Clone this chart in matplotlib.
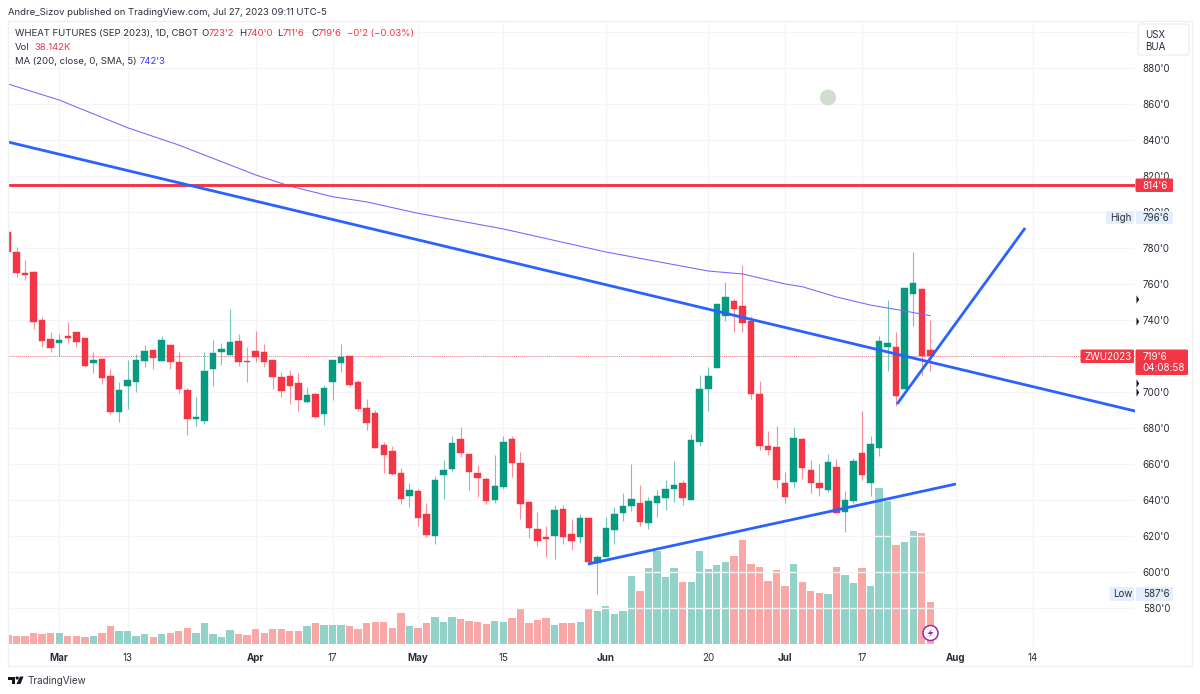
import numpy as np
import matplotlib
matplotlib.use("Agg")
import matplotlib.pyplot as plt
from matplotlib.patches import Rectangle, FancyBboxPatch, Circle, Polygon

plt.rcParams['font.family'] = ['Inter', 'DejaVu Sans']

# daily bars, Feb 21 - Jul 27 2023
opens = [788.7, 777.6, 765.9, 766.7, 740.0, 729.3, 727.2, 731.1, 733.3, 729.8,
         716.3, 718.5, 708.7, 688.9, 703.2, 705.7, 717.0, 723.1, 717.4, 726.1,
         716.5, 701.1, 685.2, 684.1, 713.0, 722.2, 720.6, 728.1, 717.2, 722.6,
         722.2, 717.6, 708.3, 708.7, 705.0, 694.6, 699.0, 687.6, 705.5, 716.3,
         719.8, 705.4, 690.9, 688.1, 670.4, 667.0, 655.2, 642.2, 644.8, 632.0,
         620.0, 653.9, 657.2, 673.7, 665.4, 655.2, 651.5, 640.0, 647.0, 673.7,
         660.7, 638.7, 623.7, 619.2, 619.8, 635.0, 620.9, 619.6, 629.8, 605.2,
         608.1, 623.1, 633.0, 636.8, 638.3, 627.2, 638.1, 641.1, 646.1, 649.6,
         640.0, 672.2, 701.5, 713.1, 742.4, 750.5, 747.6, 739.4, 698.7, 670.0,
         669.3, 649.2, 649.8, 674.1, 656.8, 649.6, 645.4, 658.1, 633.5, 639.4,
         666.1, 649.4, 668.9, 724.8, 724.8, 701.7, 754.3, 757.0, 723.25]
highs = [797.0, 780.4, 773.3, 767.2, 741.5, 733.3, 732.4, 739.1, 733.3, 729.8,
         722.4, 718.7, 712.6, 705.4, 717.6, 720.9, 726.1, 723.3, 731.1, 726.1,
         722.4, 702.4, 697.0, 722.4, 729.1, 727.4, 746.1, 732.2, 724.8, 734.1,
         726.7, 717.6, 711.3, 712.0, 710.4, 702.6, 699.2, 703.9, 717.8, 726.8,
         720.0, 706.7, 696.1, 689.8, 672.4, 669.8, 657.6, 649.6, 645.9, 638.1,
         653.5, 662.2, 675.4, 680.4, 665.6, 659.4, 652.6, 665.0, 675.4, 675.5,
         666.7, 638.7, 633.1, 625.4, 637.0, 637.0, 629.2, 632.0, 629.8, 609.4,
         630.4, 635.9, 643.7, 660.0, 648.3, 641.5, 645.5, 651.1, 661.7, 651.1,
         676.5, 709.6, 713.7, 748.7, 761.1, 751.5, 770.6, 742.2, 706.3, 678.3,
         681.1, 655.7, 680.4, 674.2, 662.2, 660.2, 665.4, 662.8, 645.0, 663.5,
         689.4, 675.4, 731.1, 750.9, 733.3, 757.8, 777.6, 757.6, 740.0]
lows = [777.6, 764.1, 762.2, 734.8, 725.0, 722.4, 720.2, 727.0, 725.2, 713.7,
        710.4, 704.6, 688.0, 683.5, 690.4, 700.2, 714.1, 712.6, 717.4, 712.8,
        699.3, 676.1, 681.1, 682.0, 703.3, 715.0, 720.6, 714.6, 705.4, 716.7,
        714.1, 701.5, 697.4, 693.5, 689.6, 694.1, 685.7, 681.7, 695.5, 711.3,
        703.1, 689.6, 678.9, 668.9, 655.0, 654.1, 637.6, 636.3, 625.7, 619.4,
        615.7, 640.5, 656.1, 664.1, 645.5, 641.8, 637.6, 638.5, 645.9, 653.0,
        629.2, 618.7, 614.6, 608.3, 607.4, 615.7, 612.0, 616.1, 603.9, 587.75,
        608.1, 615.6, 628.5, 634.1, 625.5, 623.7, 630.7, 634.4, 639.0, 637.2,
        640.0, 670.2, 689.6, 713.1, 739.6, 733.1, 733.1, 695.9, 667.8, 665.0,
        646.4, 638.5, 646.8, 651.8, 644.1, 642.4, 644.6, 632.6, 622.4, 638.1,
        651.3, 642.4, 664.3, 711.7, 692.4, 701.7, 736.8, 709.4, 711.75]
closes = [777.6, 766.3, 764.8, 738.9, 728.5, 724.6, 729.1, 730.2, 727.6, 714.4,
          717.6, 707.8, 688.9, 701.1, 706.7, 717.6, 722.8, 718.7, 729.1, 716.7,
          701.9, 685.2, 686.1, 711.7, 721.5, 723.9, 727.8, 716.7, 716.8, 719.6,
          716.7, 708.2, 700.7, 703.2, 695.6, 698.1, 686.3, 702.0, 717.8, 719.6,
          703.7, 690.6, 683.0, 668.9, 664.8, 654.2, 640.7, 645.4, 630.0, 620.7,
          650.9, 656.8, 671.7, 665.9, 655.4, 652.4, 639.2, 647.6, 672.2, 660.4,
          638.0, 624.6, 617.2, 618.5, 634.6, 619.2, 617.4, 629.8, 605.7, 608.3,
          624.4, 632.4, 636.5, 640.5, 627.6, 639.3, 642.0, 646.3, 648.3, 641.1,
          673.1, 701.7, 708.9, 748.7, 752.8, 746.3, 738.1, 698.9, 670.0, 667.6,
          651.2, 641.8, 674.2, 657.9, 649.4, 646.5, 660.9, 632.8, 640.0, 661.9,
          653.7, 671.1, 728.1, 727.2, 697.6, 757.8, 760.6, 720.0, 719.75]
# thousands of contracts
volumes = [7.9, 7.6, 7.0, 9.7, 9.1, 10.3, 10.3, 7.6, 7.6, 6.4,
           7.6, 9.7, 16.1, 11.8, 11.8, 7.6, 9.1, 6.4, 9.1, 10.3,
           11.8, 14.8, 9.7, 18.8, 9.1, 6.4, 12.7, 9.1, 7.9, 13.3,
           10.3, 13.3, 13.9, 12.1, 11.8, 16.1, 19.4, 17.0, 17.6, 17.6,
           16.7, 13.3, 18.8, 20.3, 19.7, 14.5, 27.9, 16.1, 14.5, 19.4,
           24.8, 20.3, 24.8, 22.4, 21.2, 20.3, 18.2, 20.9, 19.7, 23.6,
           31.8, 18.8, 21.8, 23.6, 17.3, 19.4, 19.4, 20.0, 32.7, 29.7,
           34.2, 27.0, 29.7, 61.5, 47.9, 69.1, 84.8, 60.9, 69.1, 56.7,
           56.7, 84.2, 67.9, 71.8, 74.5, 80.3, 94.5, 72.4, 69.7, 57.3,
           67.6, 52.7, 72.4, 56.7, 48.5, 46.4, 45.5, 69.7, 62.4, 55.1,
           69.1, 52.4, 141.5, 131.5, 89.7, 92.7, 102.7, 100.6, 38.142]

ma_bars = [0, 6, 14, 20, 29, 33, 38, 42, 48, 58, 70, 82, 86, 91, 93, 97, 101, 105, 108]
ma_vals = [871.1, 862.2, 846.8, 837.2, 820.6, 814.4, 808.5, 805.6, 799.3, 790.6,
           777.8, 767.2, 765.6, 760.0, 758.5, 752.8, 748.3, 745.0, 742.4]

resistance = 814.75
last_close = 719.75
down_trend_x = [0, 132]
down_trend_y = [838.9, 689.4]
up_trend_x = [67.9, 111]
up_trend_y = [604.4, 648.9]
steep_trend_x = [104.1, 119.1]
steep_trend_y = [693.3, 791.1]

date_ticks = [6, 14, 29, 38, 48, 58, 70, 82, 91, 100, 111, 120]
date_labels = ['Mar', '13', 'Apr', '17', 'May', '15', 'Jun', '20', 'Jul', '17', 'Aug', '14']
month_labels = ['Mar', 'Apr', 'May', 'Jun', 'Jul', 'Aug']
price_ticks = [900, 880, 860, 840, 820, 800, 780, 760, 740, 720, 700, 680, 660, 640, 620, 600, 580]

RED = '#F23645'
GREEN = '#089981'
RED_VOL = '#F9A8A8'
GREEN_VOL = '#93D2C8'
BLUE = '#2962FF'
GRID = '#F5F5F7'
TEXT = '#2A2E39'

W, H = 1200, 694
# chart pane in pixels
LEFT, RIGHT, TOP, BOTTOM = 8.0, 1135.0, 21.0, 647.0
BAR_PX = 8.54
PRICE_PX = 1.8
VOL_PX = 0.908  # thousands per pixel
AXIS_FONT = 7.0
HEAD_FONT = 6.85

fig = plt.figure(figsize=(12, 6.94), dpi=100, facecolor='white')
rect = [LEFT / W, 1 - BOTTOM / H, (RIGHT - LEFT) / W, (BOTTOM - TOP) / H]

x = np.arange(len(closes))
o = np.array(opens)
c = np.array(closes)
up = c >= o
xlim = (0, (RIGHT - LEFT) / BAR_PX)

# volume goes underneath, grid lives here too
ax_vol = fig.add_axes(rect)
ax_vol.set_xlim(xlim)
ax_vol.set_ylim(-3 * VOL_PX, (644 - TOP) * VOL_PX)
ax_vol.set_yticks([])
ax_vol.set_xticks(date_ticks)
ax_vol.set_xticklabels(date_labels, fontsize=AXIS_FONT, color=TEXT)
for lab in ax_vol.get_xticklabels():
    if lab.get_text() in month_labels:
        lab.set_fontweight('bold')
ax_vol.tick_params(axis='x', length=0, pad=4)
ax_vol.grid(True, axis='x', color=GRID, linewidth=1)
ax_vol.set_axisbelow(True)
for s in ax_vol.spines.values():
    s.set_visible(False)
ax_vol.bar(x, volumes, width=0.86, color=[GREEN_VOL if u else RED_VOL for u in up], linewidth=0)

ax = fig.add_axes(rect)
ax.patch.set_alpha(0)
ax.set_xlim(xlim)
ax.set_ylim(880 - (BOTTOM - 68) / PRICE_PX, 880 + (68 - TOP) / PRICE_PX)
ax.set_xticks([])
ax.yaxis.tick_right()
ax.set_yticks(price_ticks)
ax.set_yticklabels(["%d'0" % p if p != 900 else '' for p in price_ticks], fontsize=AXIS_FONT, color=TEXT)
ax.tick_params(axis='y', length=0, pad=5.6)
ax.grid(True, axis='y', color=GRID, linewidth=1)
ax.set_axisbelow(True)
for s in ax.spines.values():
    s.set_visible(False)

# candles
colors = [GREEN if u else RED for u in up]
ax.vlines(x, lows, highs, colors=colors, linewidth=0.8, alpha=0.55, zorder=2)
ax.bar(x, np.abs(c - o), bottom=np.minimum(o, c), width=0.76, color=colors,
       edgecolor=colors, linewidth=0.3, zorder=3)

ax.axhline(last_close, color=RED, linewidth=0.7, linestyle=(0, (1, 1)), alpha=0.6, zorder=1)
ax.plot(ma_bars, ma_vals, color='#7B61FF', linewidth=0.75, zorder=4)
ax.axhline(resistance, color=RED, linewidth=2.1, zorder=5)
ax.plot(down_trend_x, down_trend_y, color=BLUE, linewidth=2.0, zorder=5, solid_capstyle='butt')
ax.plot(up_trend_x, up_trend_y, color=BLUE, linewidth=2.0, zorder=5, solid_capstyle='butt')
ax.plot(steep_trend_x, steep_trend_y, color=BLUE, linewidth=2.0, zorder=5, solid_capstyle='butt')

# everything around the chart, in pixels
over = fig.add_axes([0, 0, 1, 1], zorder=10)
over.set_xlim(0, W)
over.set_ylim(H, 0)
over.axis('off')


def label(px, py, s, color=TEXT, size=AXIS_FONT, **kw):
    over.text(px, py, s, color=color, fontsize=size, va='center', **kw)


def box(x0, x1, y0, y1, color):
    over.add_patch(FancyBboxPatch((x0 + 1, y0 + 1), x1 - x0 - 2, y1 - y0 - 2,
                                  boxstyle='round,pad=1,rounding_size=1.5',
                                  facecolor=color, edgecolor='none'))


over.add_patch(Rectangle((7.5, 21), 1184.5, 645, fill=False, edgecolor='#EFF0F3', linewidth=1))

label(8, 12, 'Andre_Sizov published on TradingView.com, Jul 27, 2023 09:11 UTC-5', size=HEAD_FONT)
label(15, 33, 'WHEAT FUTURES (SEP 2023), 1D, CBOT', size=HEAD_FONT)
for px, s in [(201, 'O'), (239, 'H'), (277, 'L'), (311, 'C')]:
    label(px, 33, s, size=HEAD_FONT)
for px, s in [(208.5, "723'2"), (246.5, "740'0"), (283, "711'6"), (318, "719'6"), (347, "\u22120'2 (\u22120.03%)")]:
    label(px, 33, s, color=RED, size=HEAD_FONT)
label(15, 47, 'Vol', size=HEAD_FONT)
label(34, 47, '38.142K', color=RED, size=HEAD_FONT)
label(15, 61, 'MA (200, close, 0, SMA, 5)', size=HEAD_FONT)
label(139.5, 61, "742'3", color='#3D3DFF', size=HEAD_FONT)

# currency / unit button
over.add_patch(FancyBboxPatch((1139, 25), 49, 29, boxstyle='round,pad=1,rounding_size=3',
                              facecolor='white', edgecolor='#EDEEF2', linewidth=1))
label(1145, 35, 'USX')
label(1145, 47, 'BUA')

# price axis tags
box(1135.5, 1173, 178.5, 192, RED)
label(1142.7, 185.5, "814'6", color='white')
box(1106, 1134, 211, 224, '#E3EFFD')
label(1110, 217.5, 'High')
box(1136, 1173, 211, 224, '#E3EFFD')
label(1142.7, 217.5, "796'6")
box(1109.5, 1134, 587, 601, '#E3EFFD')
label(1112.7, 594, 'Low')
box(1136, 1173, 587, 601, '#E3EFFD')
label(1142.7, 594, "587'6")
box(1080.5, 1134, 349.5, 363, RED)
label(1084, 356.5, 'ZWU2023', color='white')
box(1135.5, 1188, 349.5, 375, RED)
label(1142.7, 356.5, "719'6", color='white')
label(1142.7, 368, '04:08:58', color='white')

# alert arrows on the price scale
over.plot([1136, 1136, 1136, 1136], [298.5, 321, 383, 392], linestyle='none',
          marker=[(0, -1), (0.65, 0), (0, 1)], markersize=6, color='#131722', markeredgewidth=0)

over.add_patch(Circle((828, 97.5), 8, facecolor='#D0DDCF', edgecolor='none'))

# lightning badge
over.add_patch(Circle((930.5, 633), 7.5, facecolor='white', edgecolor='#9C27B0', linewidth=1.1))
over.add_patch(Polygon([(932.5, 628.5), (927.5, 634), (930.5, 634), (928.5, 637.5), (933.5, 632), (930.5, 632)],
                       facecolor='#9C27B0', edgecolor='none'))

# TradingView logo
over.add_patch(Polygon([(8, 676.5), (15, 676.5), (15, 684), (11.5, 684), (11.5, 679.5), (8, 679.5)],
                       facecolor='#131722', edgecolor='none'))
over.add_patch(Circle((17.2, 678), 1.6, facecolor='#131722', edgecolor='none'))
over.add_patch(Polygon([(20, 676.5), (23.5, 676.5), (20.5, 684), (16.5, 684)],
                       facecolor='#131722', edgecolor='none'))
label(27, 681, 'TradingView', size=7.1, color='#333842')

fig.savefig('out.png', dpi=100)
